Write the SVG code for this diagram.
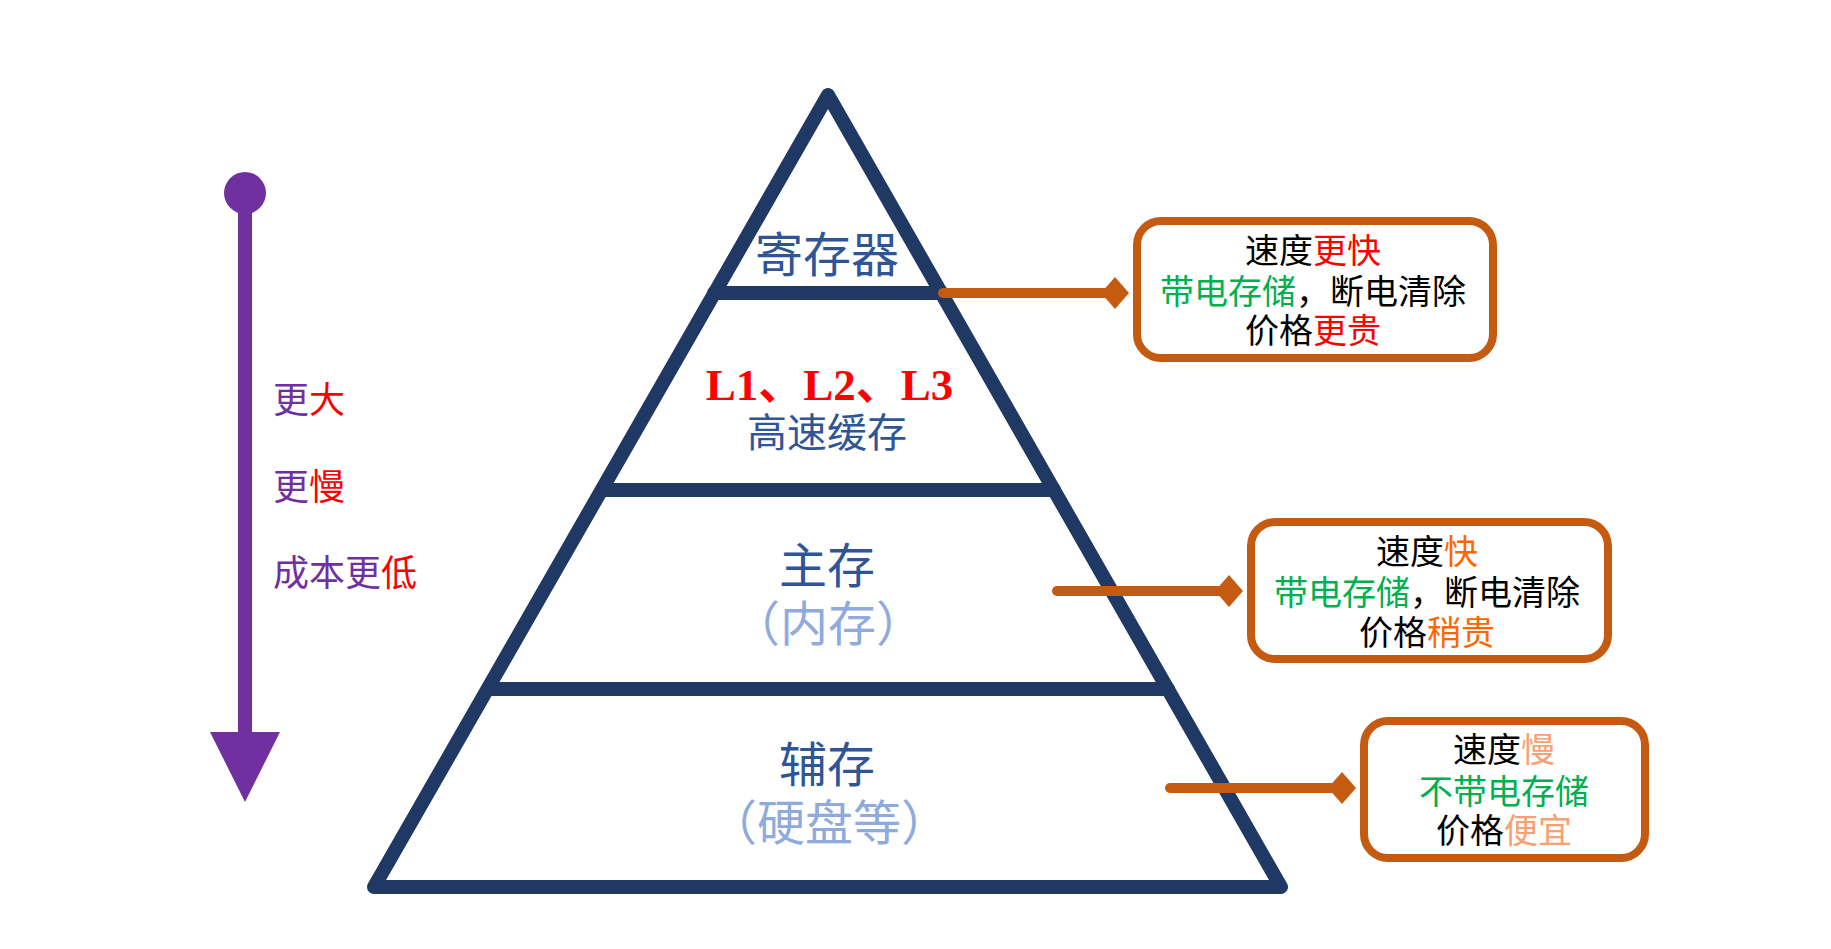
<svg xmlns="http://www.w3.org/2000/svg" width="1831" height="949" viewBox="0 0 1831 949">
<style>
.cjk{font-family:"Noto Sans CJK SC","Noto Sans",sans-serif;}
.py{fill:none;stroke:#203864;stroke-width:14;stroke-linejoin:round;stroke-linecap:round;}
.dk{fill:#2F5597;font-size:48px;text-anchor:middle;}
.lt{fill:#8FAADC;font-size:48px;text-anchor:middle;}
.box{fill:#fff;stroke:#C55A11;stroke-width:8;}
.bt{font-size:34px;fill:#000;}
.conn{stroke:#C55A11;stroke-width:10;stroke-linecap:round;fill:none;}
.dia{fill:#C55A11;}
.lf{font-size:36px;fill:#7030A0;}
.r{fill:#FF0000;}
.g{fill:#00B050;}
.o{fill:#FF6600;}
.s{fill:#F9A072;}
</style>
<rect width="1831" height="949" fill="#fff"/>
<g id="pyramid">
<path class="py" d="M828,95 L1281,887 L374,887 Z"/>
<line class="py" x1="714" y1="293" x2="942" y2="293"/>
<line class="py" x1="602" y1="490" x2="1054" y2="490"/>
<line class="py" x1="488" y1="689" x2="1168" y2="689"/>
</g>
<g id="layer-register">
<text class="cjk dk" x="827" y="272">寄存器</text>
</g>
<g id="layer-cache">
<text x="829.5" y="400" text-anchor="middle" font-family="'Liberation Serif','Noto Sans CJK SC',serif" font-weight="bold" font-size="45" fill="#FF0000">L1、L2、L3</text>
<text class="cjk dk" x="827" y="447" style="font-size:40px">高速缓存</text>
</g>
<g id="layer-main">
<text class="cjk dk" x="827" y="583">主存</text>
<text class="cjk lt" x="828" y="641">（内存）</text>
</g>
<g id="layer-aux">
<text class="cjk dk" x="827" y="782">辅存</text>
<text class="cjk lt" x="829" y="840">（硬盘等）</text>
</g>
<g id="axis">
<circle cx="245" cy="193" r="21" fill="#7030A0"/>
<line x1="245" y1="193" x2="245" y2="735" stroke="#7030A0" stroke-width="14"/>
<polygon points="210,732 280,732 245,802" fill="#7030A0"/>
<text class="cjk lf" x="273" y="413">更</text>
<text class="cjk lf r" x="309" y="413">大</text>
<text class="cjk lf" x="273" y="500">更</text>
<text class="cjk lf r" x="309" y="500">慢</text>
<text class="cjk lf" x="273" y="586">成本更</text>
<text class="cjk lf r" x="381" y="586">低</text>
</g>
<g id="connectors">
<line class="conn" x1="943" y1="293" x2="1105" y2="293"/>
<polygon class="dia" points="1101,293 1115,277 1129,293 1115,309"/>
<line class="conn" x1="1057" y1="591" x2="1219" y2="591"/>
<polygon class="dia" points="1215,591 1229,575 1243,591 1229,607"/>
<line class="conn" x1="1170" y1="788" x2="1332" y2="788"/>
<polygon class="dia" points="1328,788 1342,772 1356,788 1342,804"/>
</g>
<g id="box-register">
<rect class="box" x="1137" y="221" width="356" height="137" rx="24"/>
<text class="cjk bt" x="1245" y="263">速度</text>
<text class="cjk bt r" x="1313" y="263">更快</text>
<text class="cjk bt g" x="1160" y="304">带电存储</text>
<text class="cjk bt" x="1296" y="304">，断电清除</text>
<text class="cjk bt" x="1245" y="343">价格</text>
<text class="cjk bt r" x="1313" y="343">更贵</text>
</g>
<g id="box-main">
<rect class="box" x="1251" y="522" width="357" height="137" rx="24"/>
<text class="cjk bt" x="1376" y="564">速度</text>
<text class="cjk bt o" x="1444" y="564">快</text>
<text class="cjk bt g" x="1274" y="605">带电存储</text>
<text class="cjk bt" x="1410" y="605">，断电清除</text>
<text class="cjk bt" x="1359" y="645">价格</text>
<text class="cjk bt o" x="1427" y="645">稍贵</text>
</g>
<g id="box-aux">
<rect class="box" x="1364" y="721" width="281" height="137" rx="24"/>
<text class="cjk bt" x="1453" y="762">速度</text>
<text class="cjk bt s" x="1521" y="762">慢</text>
<text class="cjk bt g" x="1419" y="804">不带电存储</text>
<text class="cjk bt" x="1436" y="843">价格</text>
<text class="cjk bt s" x="1504" y="843">便宜</text>
</g>
</svg>
